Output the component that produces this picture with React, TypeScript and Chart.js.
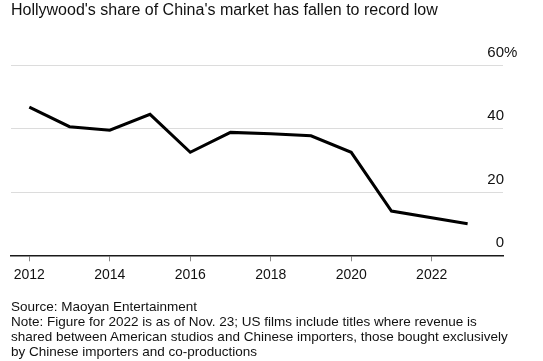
import React, { useEffect, useRef } from "react";
import { Chart, registerables } from "chart.js";

Chart.register(...registerables);

const TITLE = "Hollywood's share of China's market has fallen to record low";
const DATES = [
  "2012-01-01", "2013-01-01", "2014-01-01", "2015-01-01", "2016-01-01",
  "2017-01-01", "2018-01-01", "2019-01-01", "2020-01-01", "2021-01-01",
  "2022-11-23",
];
const SHARES = [46.9, 40.7, 39.6, 44.6, 32.6, 38.9, 38.5, 37.8, 32.6, 14.0, 10.0];
const X_TICKS = [2012, 2014, 2016, 2018, 2020, 2022];
const Y_TICKS = [0, 20, 40, 60];
const X_MIN = 2011.545;
const X_MAX = 2023.772;
const FOOTER = [
  "Source: Maoyan Entertainment",
  "Note: Figure for 2022 is as of Nov. 23; US films include titles where revenue is",
  "shared between American studios and Chinese importers, those bought exclusively",
  "by Chinese importers and co-productions",
];

const FONT = "'Liberation Sans', Arial, Helvetica, sans-serif";

function toFracYear(s: string): number {
  const [y, m, d] = s.split("-").map(Number);
  const start = Date.UTC(y, 0, 1);
  const end = Date.UTC(y + 1, 0, 1);
  const t = Date.UTC(y, m - 1, d);
  return y + (t - start) / (end - start);
}

const yLabelPlugin = {
  id: "yLabels",
  afterDraw(chart: any) {
    const ctx = chart.ctx;
    const ys = chart.scales.y;
    const right = chart.chartArea.right + 1;
    ctx.save();
    ctx.font = `15px ${FONT}`;
    ctx.fillStyle = "#111";
    ctx.textBaseline = "alphabetic";
    Y_TICKS.forEach((v, i) => {
      const py = ys.getPixelForValue(v) - 8.5;
      ctx.textAlign = "right";
      ctx.fillText(String(v), right, py);
      if (i === Y_TICKS.length - 1) {
        ctx.textAlign = "left";
        ctx.fillText("%", right, py);
      }
    });
    ctx.restore();
  },
};

export default function App() {
  const ref = useRef<HTMLCanvasElement>(null);

  useEffect(() => {
    if (!ref.current) return;
    const points = DATES.map((d, i) => ({ x: toFracYear(d), y: SHARES[i] }));
    const chart = new Chart(ref.current, {
      type: "line",
      data: {
        datasets: [
          {
            data: points,
            borderColor: "#000",
            borderWidth: 3,
            pointRadius: 0,
            tension: 0,
            fill: false,
            borderJoinStyle: "miter",
          },
        ],
      },
      options: {
        animation: false,
        responsive: false,
        events: [],
        layout: { padding: { left: 11, right: 40, top: 65.7, bottom: 65.7 } },
        plugins: {
          legend: { display: false },
          tooltip: { enabled: false },
          title: { display: false },
        },
        scales: {
          x: {
            type: "linear",
            position: "bottom",
            min: X_MIN,
            max: X_MAX,
            afterBuildTicks: (scale: any) => {
              scale.ticks = X_TICKS.map((v) => ({ value: v }));
            },
            afterFit: (scale: any) => {
              scale.height = 40;
            },
            grid: {
              display: true,
              drawOnChartArea: false,
              drawTicks: true,
              tickLength: 6,
              tickColor: "#8a8a8a",
              tickWidth: 1,
            },
            border: { display: true, color: "#1a1a1a", width: 1.5 },
            ticks: {
              padding: 5,
              autoSkip: false,
              maxRotation: 0,
              color: "#111",
              font: { family: FONT, size: 14 },
              callback: (v: any) => String(v),
            },
          },
          y: {
            type: "linear",
            position: "right",
            min: 0,
            max: 60,
            afterBuildTicks: (scale: any) => {
              scale.ticks = Y_TICKS.map((v) => ({ value: v }));
            },
            afterFit: (scale: any) => {
              scale.width = 0;
            },
            grid: {
              drawTicks: false,
              color: (c: any) => (c.tick && c.tick.value === 0 ? "rgba(0,0,0,0)" : "#dcdcdc"),
              lineWidth: 1,
            },
            border: { display: false },
            ticks: { display: false },
          },
        },
      },
      plugins: [yLabelPlugin],
    } as any);
    return () => chart.destroy();
  }, []);

  return (
    <div
      style={{
        position: "fixed",
        left: 0,
        top: 0,
        width: 543,
        height: 361,
        background: "#fff",
        fontFamily: FONT,
        color: "#111",
      }}
    >
      <canvas
        ref={ref}
        width={543}
        height={361}
        style={{ position: "absolute", left: 0, top: 0, width: 543, height: 361 }}
      />
      <div
        style={{
          position: "absolute",
          left: 11,
          top: 0.5,
          fontSize: 16,
          lineHeight: "18px",
          whiteSpace: "nowrap",
        }}
      >
        {TITLE}
      </div>
      <div
        style={{
          position: "absolute",
          left: 11,
          top: 298.5,
          fontSize: 13.5,
          lineHeight: "15px",
          whiteSpace: "nowrap",
        }}
      >
        {FOOTER.map((l, i) => (
          <div key={i}>{l}</div>
        ))}
      </div>
    </div>
  );
}
